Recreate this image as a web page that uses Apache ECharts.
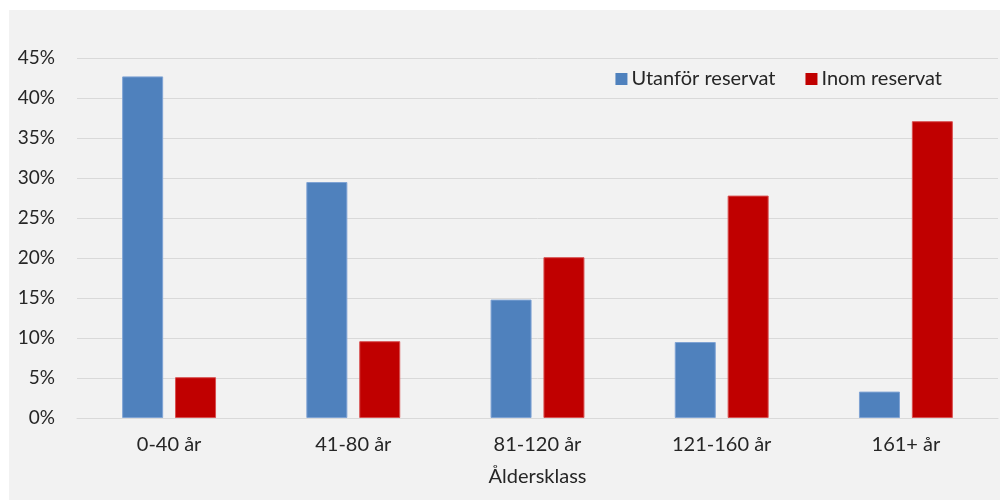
<!DOCTYPE html>
<html><head><meta charset="utf-8">
<script src="https://cdn.jsdelivr.net/npm/echarts@6/dist/echarts.min.js"></script>
<style>html,body{margin:0;padding:0;background:#fff}#c{width:1003px;height:500px}</style>
</head><body><div id="c"></div>
<script>
const categories = ['0-40 år', '41-80 år', '81-120 år', '121-160 år', '161+ år'];
const utanfor = [42.7, 29.5, 14.8, 9.5, 3.3];
const inom = [5.1, 9.6, 20.1, 27.8, 37.1];
const yTicks = [0, 5, 10, 15, 20, 25, 30, 35, 40, 45];

const font = 'Lato, "Open Sans", sans-serif';
const chart = echarts.init(document.getElementById('c'), null, {renderer: 'canvas'});
chart.setOption({
  backgroundColor: '#ffffff',
  animation: false,
  graphic: [{type: 'rect', z: -10, shape: {x: 9, y: 10, width: 991, height: 490}, style: {fill: '#f2f2f2'}}],
  legend: {
    right: 56, top: 64, itemWidth: 12, itemHeight: 12, itemGap: 30,
    textStyle: {fontFamily: font, fontSize: 20, color: '#262626', padding: [0, 0, 0, -1]},
    itemStyle: {borderWidth: 0},
    icon: 'rect',
    data: ['Utanför reservat', 'Inom reservat']
  },
  grid: {left: 77, right: 5, top: 58, bottom: 82, containLabel: false},
  xAxis: {
    type: 'category', data: categories,
    axisLine: {lineStyle: {color: '#d9d9d9', width: 1}},
    axisTick: {show: false},
    axisLabel: {fontFamily: font, fontSize: 20, color: '#262626', margin: 17},
    name: 'Åldersklass', nameLocation: 'middle', nameGap: 49,
    nameTextStyle: {fontFamily: font, fontSize: 20, color: '#262626'}
  },
  yAxis: {
    type: 'value', min: yTicks[0], max: yTicks[yTicks.length - 1], interval: 5,
    axisLine: {show: false}, axisTick: {show: false},
    splitLine: {lineStyle: {color: '#d9d9d9', width: 1}},
    axisLabel: {fontFamily: font, fontSize: 19, color: '#262626', margin: 22, formatter: v => v + '%'}
  },
  series: [
    {name: 'Utanför reservat', type: 'bar', data: utanfor, barWidth: 41, barGap: '29%',
     itemStyle: {color: '#4f81bd', borderColor: '#7fa3d4', borderWidth: 1}},
    {name: 'Inom reservat', type: 'bar', data: inom, barWidth: 41,
     itemStyle: {color: '#c00000', borderColor: '#d85050', borderWidth: 1}}
  ]
});
</script></body></html>
